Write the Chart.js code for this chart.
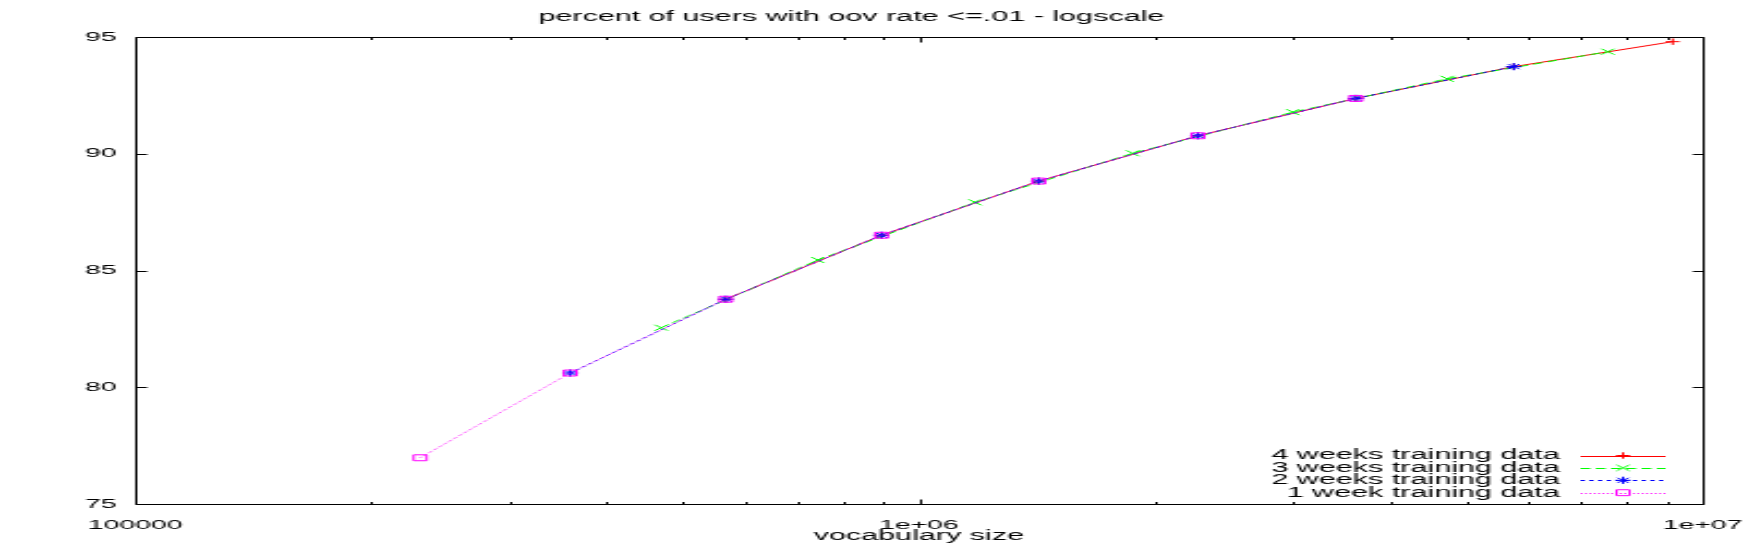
<!DOCTYPE html>
<html>
<head>
<meta charset="utf-8">
<script src="https://cdn.jsdelivr.net/npm/chart.js@4/dist/chart.umd.min.js"></script>
<style>
  html, body { margin: 0; padding: 0; background: #fff; overflow: hidden; }
  /* the reference is a plot stretched sideways, so draw it narrow and stretch it */
  #wrap { width: 800px; height: 545px; transform: scaleX(2.18); transform-origin: 0 0; }
</style>
</head>
<body>
<div id="wrap"><canvas id="grafico" width="800" height="545"></canvas></div>
<script>
// values
const weeks4X = [567000, 896000, 1422000, 2270000, 3610000, 5740000, 9160000];
const weeks4Y = [83.77, 86.51, 88.83, 90.77, 92.37, 93.73, 94.80];

const weeks3X = [469000, 743000, 1179000, 1874000, 3000000, 4720000, 7570000];
const weeks3Y = [82.55, 85.45, 87.92, 90.02, 91.78, 93.21, 94.37];

const weeks2X = [359000, 567000, 896000, 1422000, 2270000, 3610000, 5740000];
const weeks2Y = [80.61, 83.77, 86.51, 88.83, 90.77, 92.37, 93.73];

const week1X = [231000, 359000, 567000, 896000, 1422000, 2270000, 3610000];
const week1Y = [76.98, 80.61, 83.77, 86.51, 88.83, 90.77, 92.37];

const seriesLabels = [
  "4 weeks training data",
  "3 weeks training data",
  "2 weeks training data",
  "1 week training data",
];

const xTickValues = [100000, 1000000, 10000000];
const xTickLabels = ["100000", "1e+06", "1e+07"];
const xMinorSteps = [2, 3, 4, 5, 6, 7, 8, 9];
const yTickValues = [75, 80, 85, 90, 95];

const FONT = "'Liberation Sans', Arial, sans-serif";

function points(xs, ys) {
  return xs.map((x, i) => ({ x: x, y: ys[i] }));
}

// gnuplot style border with inward ticks on all four sides
const frameTicks = {
  id: "frameTicks",
  afterDatasetsDraw(chart) {
    const ctx = chart.ctx;
    const a = chart.chartArea;
    const xs = chart.scales.x;
    const ys = chart.scales.y;
    const L = Math.round(a.left) + 0.5;
    const R = Math.round(a.right) + 0.5;
    const T = Math.round(a.top) + 0.5;
    const B = Math.round(a.bottom) + 0.5;
    ctx.save();
    ctx.strokeStyle = "#000";
    ctx.lineWidth = 1;
    ctx.beginPath();
    ctx.rect(L, T, R - L, B - T);

    const tick = (px, len) => {
      const p = Math.round(px) + 0.5;
      ctx.moveTo(p, B);
      ctx.lineTo(p, B - len);
      ctx.moveTo(p, T);
      ctx.lineTo(p, T + len);
    };
    xTickValues.forEach((v, i) => {
      tick(xs.getPixelForValue(v), 5);
      if (i < xTickValues.length - 1) {
        xMinorSteps.forEach((m) => tick(xs.getPixelForValue(v * m), 2.5));
      }
    });
    yTickValues.forEach((v) => {
      const p = Math.round(ys.getPixelForValue(v)) + 0.5;
      ctx.moveTo(L, p);
      ctx.lineTo(L + 5, p);
      ctx.moveTo(R, p);
      ctx.lineTo(R - 5, p);
    });
    ctx.stroke();
    ctx.restore();
  },
};

// key in the lower right corner, text right aligned, sample to the right
const gnuKey = {
  id: "gnuKey",
  afterDraw(chart) {
    const ctx = chart.ctx;
    const textRight = 715.5;
    const lineFrom = 725;
    const lineTo = 764;
    const markX = 744.5;
    const firstRow = 455.5;
    const rowStep = 12.4;
    ctx.save();
    chart.data.datasets.forEach((ds, i) => {
      const yy = firstRow + i * rowStep;
      ctx.font = "14px " + FONT;
      ctx.fillStyle = "#000";
      ctx.textAlign = "right";
      ctx.textBaseline = "middle";
      ctx.fillText(ds.label, textRight, yy);

      ctx.strokeStyle = ds.borderColor;
      ctx.lineWidth = ds.borderWidth;
      ctx.setLineDash(ds.borderDash || []);
      ctx.beginPath();
      ctx.moveTo(lineFrom, Math.round(yy) + 0.5);
      ctx.lineTo(lineTo, Math.round(yy) + 0.5);
      ctx.stroke();
      ctx.setLineDash([]);

      ctx.fillStyle = "rgba(0,0,0,0)";
      if (Chart.helpers && Chart.helpers.drawPoint) {
        Chart.helpers.drawPoint(
          ctx,
          { pointStyle: ds.pointStyle, radius: ds.pointRadius, rotation: 0, borderWidth: 1 },
          markX,
          yy
        );
      }
    });
    ctx.restore();
  },
};

const datasets = [
  {
    label: seriesLabels[0],
    data: points(weeks4X, weeks4Y),
    borderColor: "#ff0000",
    borderWidth: 1,
    pointStyle: "cross",
    pointRadius: 3.2,
  },
  {
    label: seriesLabels[1],
    data: points(weeks3X, weeks3Y),
    borderColor: "#00ff00",
    borderWidth: 1,
    borderDash: [4.5, 2.5],
    pointStyle: "crossRot",
    pointRadius: 4.2,
  },
  {
    label: seriesLabels[2],
    data: points(weeks2X, weeks2Y),
    borderColor: "#0000ff",
    borderWidth: 1,
    borderDash: [2, 2],
    pointStyle: "star",
    pointRadius: 3.6,
  },
  {
    label: seriesLabels[3],
    data: points(week1X, week1Y),
    borderColor: "#ff00ff",
    borderWidth: 1,
    borderDash: [0.8, 1.2],
    pointStyle: "rect",
    pointRadius: 4.2,
  },
].map((d, i) => ({
  ...d,
  showLine: true,
  fill: false,
  tension: 0,
  pointBorderColor: d.borderColor,
  pointBackgroundColor: "rgba(0,0,0,0)",
  pointBorderWidth: 1,
  pointHoverRadius: d.pointRadius,
  order: 3 - i,
}));

Chart.defaults.color = "#000";
Chart.defaults.font.family = FONT;

new Chart(document.getElementById("grafico").getContext("2d"), {
  type: "scatter",
  data: { datasets: datasets },
  plugins: [frameTicks, gnuKey],
  options: {
    responsive: false,
    animation: false,
    devicePixelRatio: 1,
    layout: { padding: { left: 0, right: 19, top: 0, bottom: 0 } },
    plugins: {
      legend: { display: false },
      tooltip: { enabled: false },
      title: {
        display: true,
        text: "percent of users with oov rate <=.01 - logscale",
        color: "#000",
        font: { size: 14, weight: "normal", family: FONT },
        padding: { top: 9, bottom: 11.2 },
      },
    },
    scales: {
      x: {
        type: "logarithmic",
        min: 100000,
        max: 10000000,
        grid: { display: false, drawTicks: false },
        border: { display: false },
        afterBuildTicks: (scale) => {
          scale.ticks = xTickValues.map((v) => ({ value: v }));
        },
        afterFit: (scale) => {
          scale.height = 41;
          scale.paddingLeft = 0;
          scale.paddingRight = 0;
        },
        ticks: {
          autoSkip: false,
          maxRotation: 0,
          padding: 14,
          font: { size: 13 },
          callback: (value, index) => xTickLabels[index],
        },
        title: {
          display: true,
          text: "vocabulary size",
          font: { size: 14 },
          padding: { top: 0, bottom: 0.5 },
        },
      },
      y: {
        min: 75,
        max: 95,
        grid: { display: false, drawTicks: false },
        border: { display: false },
        afterBuildTicks: (scale) => {
          scale.ticks = yTickValues.map((v) => ({ value: v }));
        },
        afterFit: (scale) => {
          scale.width = 62;
          scale.paddingTop = 0;
          scale.paddingBottom = 0;
        },
        ticks: {
          padding: 8.5,
          font: { size: 13 },
        },
      },
    },
  },
});
</script>
</body>
</html>
